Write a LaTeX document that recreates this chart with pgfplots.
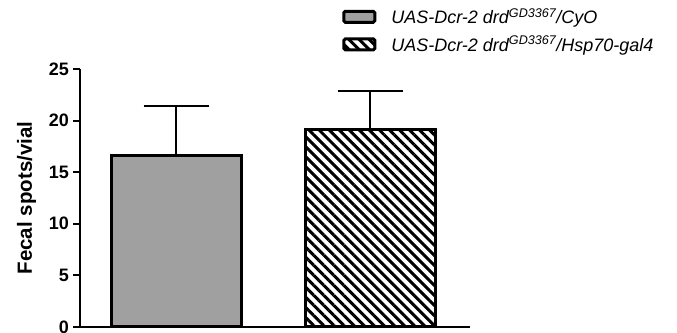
\documentclass[border=0pt]{standalone}
\usepackage{fontspec}
\setmainfont{Liberation Sans}
\usepackage{pgfplots}
\pgfplotsset{compat=1.18}
\usetikzlibrary{patterns.meta}
\definecolor{bargray}{RGB}{160,160,160}
\begin{document}
\begin{tikzpicture}
\useasboundingbox (0,0) rectangle (677bp,333bp);
\begin{axis}[
  at={(80bp,6bp)}, anchor=south west,
  scale only axis, width=390bp, height=258bp,
  xmin=0.505, xmax=2.515, ymin=0, ymax=25,
  axis x line=bottom, axis y line=left,
  axis line style={-, line width=2bp, black},
  xtick=\empty,
  ytick={0,5,10,15,20,25},
  tick align=outside,
  major tick length=7bp,
  every tick/.style={line width=2bp, black},
  /pgf/number format/assume math mode=true,
  yticklabel style={font=\fontsize{18bp}{20bp}\selectfont\bfseries, inner sep=0pt, xshift=-4bp},
  ylabel={Fecal spots/vial},
  every axis y label/.style={at={(rel axis cs:-0.1367,0.5)}, anchor=center, rotate=90,
    font=\fontsize{20.5bp}{22bp}\selectfont\bfseries},
  ybar, bar width=130bp,
  legend style={at={(0.672,1.235)}, anchor=north west, draw=none, fill=none,
    inner sep=0pt, column sep=15bp, row sep=11bp,
    nodes={inner sep=0pt, anchor=west},
    font=\fontsize{18bp}{20bp}\selectfont\itshape},
  legend cell align=left,
  legend image code/.code={\draw[#1, line width=3bp, rounded corners=1.5bp] (0bp,-5.5bp) rectangle (31bp,5.5bp);},
]
\addplot+[bar shift=0pt, fill=bargray, draw=black, line width=3bp,
  error bars/.cd, y dir=plus, y explicit,
  error bar style={line width=2bp, black},
  error mark options={rotate=90, line width=2bp, black, mark size=32.5bp}]
  coordinates {(1,16.62) +- (0,4.84)};
\addlegendentry{UAS-Dcr-2 drd\textsuperscript{GD3367}/CyO}
\addplot+[bar shift=0pt, draw=black, line width=3bp,
  pattern={Lines[angle=-45, distance=7.1bp, line width=3bp]}, pattern color=black,
  error bars/.cd, y dir=plus, y explicit,
  error bar style={line width=2bp, black},
  error mark options={rotate=90, line width=2bp, black, mark size=32.5bp}]
  coordinates {(2,19.09) +- (0,3.78)};
\addlegendentry{UAS-Dcr-2 drd\textsuperscript{GD3367}/Hsp70-gal4}
\end{axis}
\end{tikzpicture}
\end{document}
